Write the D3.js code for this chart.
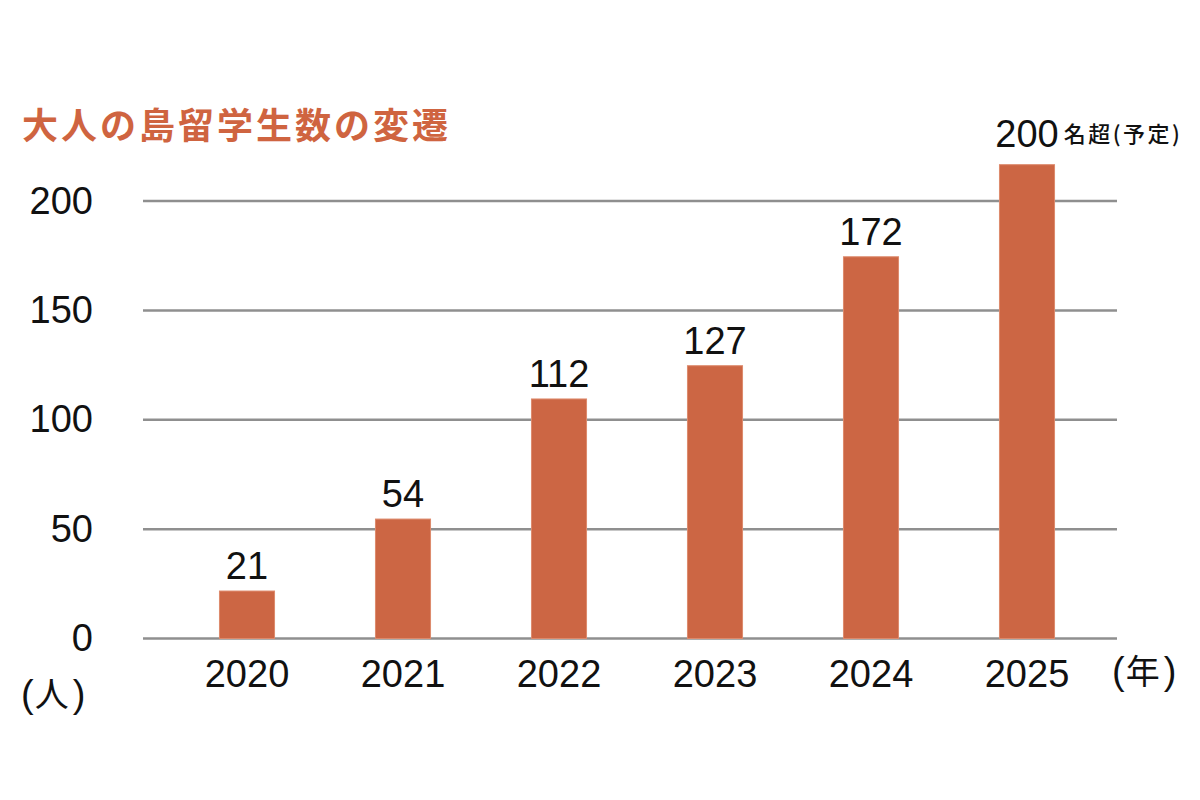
<!DOCTYPE html>
<html>
<head>
<meta charset="utf-8">
<script src="https://cdn.jsdelivr.net/npm/d3@7"></script>
<style>
  html, body { margin: 0; padding: 0; background: #fff; }
  svg { display: block; }
</style>
</head>
<body>
<svg id="chart" width="1200" height="800"></svg>
<script>
// ---- data ----
const years = ["2020", "2021", "2022", "2023", "2024", "2025"];
const barValues = [21.7, 54.6, 109.5, 124.7, 174.5, 216.6]; // bar heights as drawn
const valueLabels = ["21", "54", "112", "127", "172", "200"];
const labelSuffixes = ["", "", "", "", "", "名超(予定)"];
const yTicks = [0, 50, 100, 150, 200];
const titleText = "大人の島留学生数の変遷";
const yUnit = "人";
const xUnit = "年";

// ---- setup ----
const svg = d3.select("#chart");
const latin = "'Liberation Sans', Arial, Helvetica, sans-serif";
const cjk = "'Noto Sans CJK JP', 'Noto Sans CJK SC', sans-serif";
const barColor = "#cc6644";
const gridColor = "#8f8f8f";

const y = d3.scaleLinear().domain([0, 200]).range([638.5, 201]);
const x = d3.scaleBand().domain(years).range([169, 1105]).paddingInner(0.647).paddingOuter(0.3235);

// gridlines
svg.append("g").selectAll("line").data(yTicks).join("line")
  .attr("x1", 143).attr("x2", 1117)
  .attr("y1", d => y(d)).attr("y2", d => y(d))
  .attr("stroke", gridColor).attr("stroke-width", 2.5);

// y axis labels
const yAxis = svg.append("g").attr("transform", "translate(93,0)")
  .call(d3.axisLeft(y).tickValues(yTicks).tickSize(0).tickPadding(0));
yAxis.select(".domain").remove();
yAxis.selectAll("text").attr("font-family", latin).attr("font-size", 38).attr("fill", "#111");

// x axis labels
const xAxis = svg.append("g").attr("transform", `translate(0,${y(0)})`)
  .call(d3.axisBottom(x).tickSize(0).tickPadding(22));
xAxis.select(".domain").remove();
xAxis.selectAll("text").attr("font-family", latin).attr("font-size", 38).attr("fill", "#111");

// bars
svg.append("g").selectAll("rect").data(years).join("rect")
  .attr("x", d => x(d))
  .attr("y", (d, i) => y(barValues[i]))
  .attr("width", x.bandwidth())
  .attr("height", (d, i) => y(0) - y(barValues[i]))
  .attr("fill", barColor)
  .attr("stroke", "#dd8a6c").attr("stroke-width", 1);

// value labels
const lbl = svg.append("g");
years.forEach((yr, i) => {
  const cx = x(yr) + x.bandwidth() / 2;
  const by = y(barValues[i]) - 12;
  const t = lbl.append("text")
    .attr("x", cx).attr("y", by)
    .attr("text-anchor", "middle")
    .attr("font-family", latin).attr("font-size", 38).attr("fill", "#111")
    .text(valueLabels[i]);
  if (labelSuffixes[i]) {
    const bb = t.node().getBBox();
    t.attr("y", by - 6);
    lbl.append("text")
      .attr("x", bb.x + bb.width + 5).attr("y", by - 11)
      .attr("font-family", cjk).attr("font-size", 22).attr("font-weight", 500)
      .attr("fill", "#111").attr("letter-spacing", 2.5)
      .text(labelSuffixes[i]);
  }
});

// title
svg.append("text")
  .attr("x", 22).attr("y", 139)
  .attr("font-family", cjk).attr("font-size", 36).attr("font-weight", 700)
  .attr("letter-spacing", 3)
  .attr("fill", "#cf6440")
  .text(titleText);

// unit labels: latin parentheses around a CJK character
function unitLabel(x0, yb, ch) {
  const t = svg.append("text").attr("x", x0).attr("y", yb).attr("fill", "#111");
  t.append("tspan").attr("font-family", latin).attr("font-size", 38).text("(");
  t.append("tspan").attr("font-family", cjk).attr("font-size", 34).attr("dx", 1).text(ch);
  t.append("tspan").attr("font-family", latin).attr("font-size", 38).attr("dx", 4).text(")");
}
unitLabel(21, 707, yUnit);
unitLabel(1112, 684, xUnit);
</script>
</body>
</html>
